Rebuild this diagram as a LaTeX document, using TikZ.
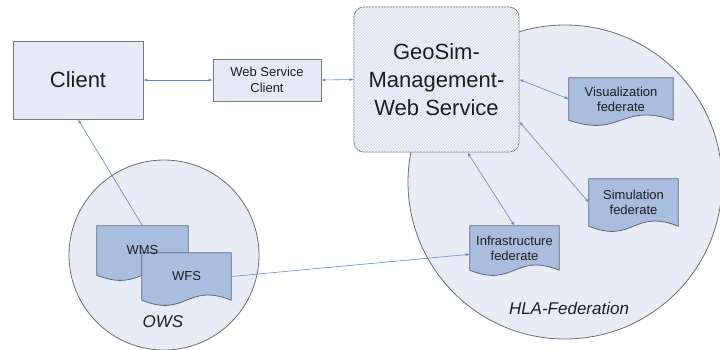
\documentclass[tikz,border=0pt]{standalone}
\usepackage{fontspec}
\setmainfont{Liberation Sans}
\usetikzlibrary{arrows.meta,positioning,calc,backgrounds,patterns}
\definecolor{boxfill}{HTML}{E6EAF6}
\definecolor{boxline}{HTML}{7A7A7A}
\definecolor{hubfill}{HTML}{D9E1EF}
\definecolor{docfill}{HTML}{A9BDDF}
\definecolor{docline}{HTML}{5C6677}
\definecolor{areafill}{HTML}{E7ECF7}
\definecolor{arealine}{HTML}{6E6E6E}
\definecolor{arrowblue}{HTML}{6388C6}
\definecolor{inktext}{HTML}{1E1E1E}
\tikzset{
  bigbox/.style={draw=boxline,fill=boxfill,line width=0.8pt,font=\fontsize{22}{28}\selectfont,text=inktext,align=center},
  smallbox/.style={draw=boxline,fill=boxfill,line width=0.8pt,font=\fontsize{13}{16}\selectfont,text=inktext,align=center},
  hub/.style={draw=boxline,fill=hubfill,rounded corners=10pt,line width=0.8pt,postaction={pattern=north east lines,pattern color=white},font=\fontsize{22}{28}\selectfont,text=inktext,align=center},
  docnode/.style={inner sep=0pt,font=\fontsize{13}{15}\selectfont,text=inktext,align=center},
  docshape/.style={draw=docline,fill=docfill,line width=0.8pt},
  area/.style={circle,draw=arealine,fill=areafill,line width=0.8pt,inner sep=0pt},
  arealabel/.style={font=\itshape\fontsize{17}{20}\selectfont,text=inktext},
  link/.style={{Latex[length=4pt,width=3pt]}-{Latex[length=4pt,width=3pt]},draw=arrowblue,line width=0.6pt},
  feed/.style={-{Latex[length=4pt,width=3pt]},draw=arrowblue,line width=0.6pt}
}
% document outline: flat top, wavy bottom
\newcommand{\docoutline}[1]{(#1.south west) -- (#1.north west) -- (#1.north east) -- (#1.south east) .. controls ($(#1.south)+(0,-18)$) and ($(#1.south)+(0,18)$) .. (#1.south west) -- cycle}

\begin{document}
\begin{tikzpicture}[x=1pt,y=-1pt]
\useasboundingbox (0,0) rectangle (720,349);

\node[bigbox,minimum width=130,minimum height=78] (client) at (78,80) {Client};
\node[smallbox,minimum width=108,minimum height=42] (wsc) at (267,80) {Web Service\\Client};
\node[hub,minimum width=165,minimum height=145] (geo) at (436.5,79.5) {GeoSim-\\Management-\\Web Service};

\node[docnode,minimum width=104,minimum height=42] (vis) at (621,99) {Visualization\\federate};
\node[docnode,minimum width=89,minimum height=47] (sim) at (633.5,202.5) {Simulation\\federate};
\node[docnode,minimum width=89,minimum height=44] (infra) at (514.5,248) {Infrastructure\\federate};
\node[docnode,minimum width=91,minimum height=49] (wms) at (142.5,250.5) {WMS};
\node[docnode,minimum width=89,minimum height=47] (wfs) at (186.5,276.5) {WFS};

\node[arealabel] (owslabel) at (163,322) {OWS};
\node[arealabel] (hlalabel) at (569,308) {HLA-Federation};

\begin{scope}[on background layer]
  \node[area,minimum size=314] (hla) at (565,182) {};
  \node[area,minimum size=190] (ows) at (164,255) {};
  \foreach \d in {vis,sim,infra,wms,wfs}
    \draw[docshape] \docoutline{\d};
\end{scope}

\draw[link] (client.east) -- (wsc.west);
\draw[link] (wsc.east) -- (geo.west);
\draw[link] (geo.east) -- (vis.west);
\draw[link] (geo.-27) -- (sim.west);
\draw[link] (geo.-67) -- (infra.north);
\draw[feed] (wfs.east) -- (infra.188);
\draw[feed] (wms.north) -- (client.south);
\end{tikzpicture}
\end{document}
